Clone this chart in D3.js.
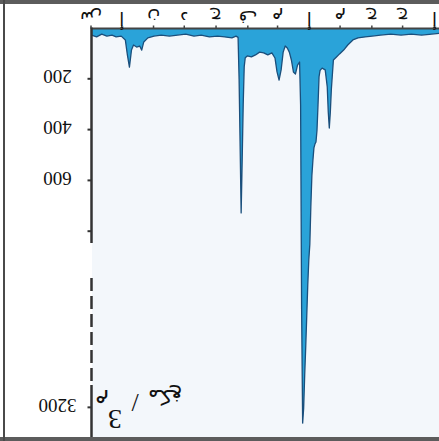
<!DOCTYPE html>
<html><head><meta charset="utf-8">
<script src="https://cdn.jsdelivr.net/npm/d3@7"></script>
<style>html,body{margin:0;padding:0;background:#fff;}svg{display:block;}</style>
</head><body>
<svg id="c" width="439" height="441"></svg>
<script>
// ---- data (season Sep 2019 – Aug 2020) ----
const dates = ["2019-09-01","2019-09-06","2019-09-11","2019-09-16","2019-09-21","2019-09-25","2019-09-30",
"2019-10-04","2019-10-06","2019-10-08","2019-10-10","2019-10-12","2019-10-15","2019-10-18","2019-10-20","2019-10-22","2019-10-26",
"2019-11-01","2019-11-08","2019-11-16","2019-11-24","2019-12-02","2019-12-10","2019-12-17","2019-12-25",
"2020-01-02","2020-01-09","2020-01-16","2020-01-20","2020-01-22","2020-01-23","2020-01-25","2020-01-26","2020-01-27","2020-01-28","2020-01-29","2020-01-31",
"2020-02-04","2020-02-08","2020-02-12","2020-02-16","2020-02-20","2020-02-24","2020-02-27","2020-02-29",
"2020-03-02","2020-03-04","2020-03-06","2020-03-08","2020-03-10","2020-03-12","2020-03-14","2020-03-16","2020-03-18","2020-03-20","2020-03-22",
"2020-03-23","2020-03-24","2020-03-25","2020-03-26","2020-03-27","2020-03-28","2020-03-29","2020-03-30","2020-03-31",
"2020-04-01","2020-04-02","2020-04-03","2020-04-04","2020-04-05","2020-04-06","2020-04-07","2020-04-08","2020-04-09","2020-04-10","2020-04-11","2020-04-13","2020-04-16","2020-04-18","2020-04-19","2020-04-20","2020-04-21","2020-04-22","2020-04-24","2020-04-27","2020-04-30",
"2020-05-04","2020-05-08","2020-05-13","2020-05-18","2020-05-25","2020-06-01","2020-06-09","2020-06-19","2020-06-29","2020-07-09","2020-07-19","2020-07-29","2020-08-08","2020-08-18","2020-08-31"];
const values = [26,33,22,30,26,33,30,
45,104,152,85,65,73,69,85,53,37,
30,26,30,26,22,30,26,33,
30,33,37,30,35,200,726,520,300,150,115,108,
112,104,93,96,104,96,116,171,
203,163,93,69,77,93,124,171,179,144,132,
300,1900,3260,3200,2950,2500,2000,1500,1100,
850,700,580,520,470,455,447,400,300,190,165,156,163,230,330,392,330,240,124,112,100,
85,65,45,37,33,30,26,22,26,22,26,22,18,20,18];
const monthLabels = ["س","أ","ن","د","ج","ف","م","أ","م","ج","ج","أ"]; // Sep..Aug
const yTicks = [200,400,600,800,3200];
const yTickLabels = ["200","400","600","","3200"];
const unitParts = {word:"مكغ", slash:"/", exp:"3", m:"م"};

const W = 439, H = 441;
const svg = d3.select("#c");

// page background (page coordinates)
svg.append("rect").attr("width",W).attr("height",H).attr("fill","#fff");
svg.append("rect").attr("x",92).attr("y",28).attr("width",W-92).attr("height",H-28).attr("fill","#f3f7fb");

// chart drawn in its own orientation, turned half a turn
const g = svg.append("g").attr("transform",`rotate(180 ${W/2} ${H/2})`);

const parse = d3.timeParse("%Y-%m-%d");
const data = dates.map((d,i)=>({date:parse(d), v:values[i]}));

const x0 = new Date(2019,8,1), x1 = new Date(2020,8,1);
const axisX = 347.5;
const x = d3.scaleTime().domain([x0,x1]).range([axisX, axisX - 1.025*366]);
const y = d3.scaleLinear().domain([0,850,3110,3290]).range([412.5,196.6,56,10.3]);

const area = d3.area().x(d=>x(d.date)).y0(y(0)).y1(d=>y(d.v));
const line = d3.line().x(d=>x(d.date)).y(d=>y(d.v));
g.append("path").datum(data).attr("d",area).attr("fill","#2aa3d9");
g.append("path").datum(data).attr("d",line).attr("fill","none").attr("stroke","#1a4f7c").attr("stroke-width",1.3).attr("stroke-linejoin","round");

// x axis (month initials)
const monthTicks = d3.timeMonth.range(x0, x1);
const xAxis = d3.axisBottom(x).tickValues(monthTicks).tickSize(3)
  .tickFormat(d=>monthLabels[(d.getMonth()+4)%12]);
const gx = g.append("g").attr("transform",`translate(0,${y(0)})`).call(xAxis);
gx.select(".domain").attr("stroke","#444").attr("stroke-width",2).attr("d",`M${axisX},0H-40`);
gx.selectAll(".tick line").attr("stroke","#444").attr("stroke-width",1.5);
gx.selectAll(".tick text").attr("font-family","DejaVu Sans, sans-serif").attr("font-size",18).attr("fill","#111").attr("dy","0.55em").attr("y",7);

// y axis (broken)
const ga = g.append("g");
ga.append("line").attr("x1",axisX).attr("x2",axisX).attr("y1",y(0)+1).attr("y2",198).attr("stroke","#333").attr("stroke-width",2.5);
ga.append("line").attr("x1",axisX).attr("x2",axisX).attr("y1",163).attr("y2",56).attr("stroke","#333").attr("stroke-width",2.5).attr("stroke-dasharray","13,5");
ga.append("line").attr("x1",axisX).attr("x2",axisX).attr("y1",56).attr("y2",4).attr("stroke","#333").attr("stroke-width",2.5);
const yAxis = d3.axisRight(y).tickValues(yTicks).tickSize(4).tickFormat((d,i)=>yTickLabels[i]);
const gy = g.append("g").attr("transform",`translate(${axisX},0)`).call(yAxis);
gy.select(".domain").remove();
gy.selectAll(".tick line").attr("stroke","#333").attr("stroke-width",2);
gy.selectAll(".tick text").attr("x",34).attr("text-anchor","middle").attr("dy","0.45em")
  .attr("font-family","Liberation Serif, serif").attr("font-size",19).attr("fill","#111");

// unit title
const tf = "DejaVu Sans, sans-serif";
g.append("text").attr("x",337).attr("y",38).attr("dy","0.35em").attr("text-anchor","middle").attr("font-family",tf).attr("font-size",22).attr("fill","#111").text(unitParts.m);
g.append("text").attr("x",324).attr("y",21).attr("dy","0.35em").attr("text-anchor","middle").attr("font-family","Liberation Serif, serif").attr("font-size",28).attr("fill","#111").text(unitParts.exp);
g.append("text").attr("x",304).attr("y",38).attr("dy","0.35em").attr("text-anchor","middle").attr("font-family","Liberation Serif, serif").attr("font-size",26).attr("fill","#111").text(unitParts.slash);
g.append("text").attr("x",274).attr("y",44).attr("dy","0.35em").attr("text-anchor","middle").attr("font-family",tf).attr("font-size",21).attr("fill","#111").text(unitParts.word);

// frame
svg.append("rect").attr("x",0).attr("y",0).attr("width",W).attr("height",4).attr("fill","#5c5c5c");
svg.append("rect").attr("x",0).attr("y",437).attr("width",W).attr("height",4).attr("fill","#5c5c5c");
svg.append("rect").attr("x",3).attr("y",0).attr("width",2).attr("height",H).attr("fill","#4a4a4a");
</script>
</body></html>
